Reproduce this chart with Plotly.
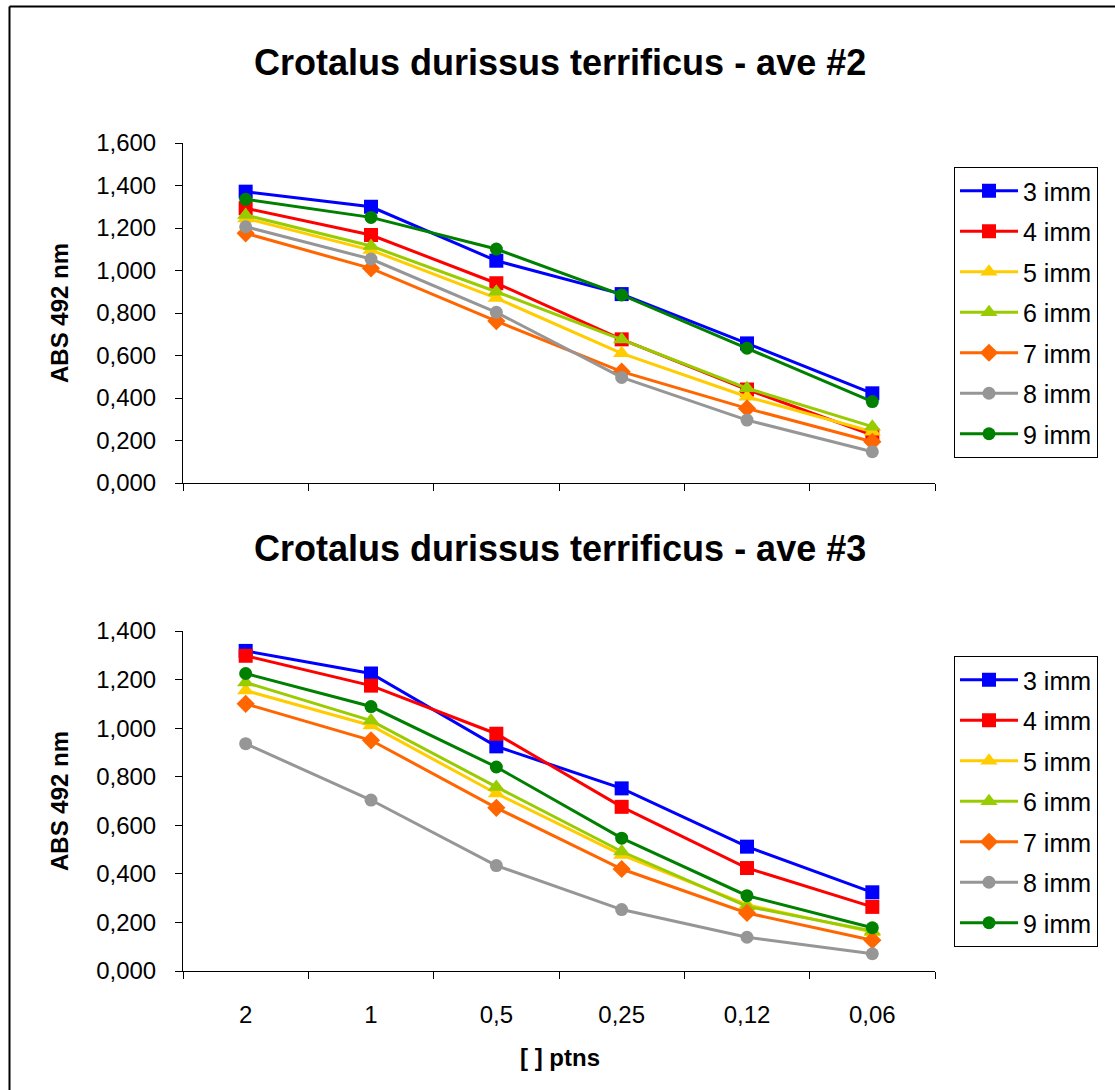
import plotly.graph_objects as go

W, H = 1115, 1090

categories = ["2", "1", "0,5", "0,25", "0,12", "0,06"]
series_names = ["3 imm", "4 imm", "5 imm", "6 imm", "7 imm", "8 imm", "9 imm"]

# Crotalus durissus terrificus - ave #2
ave2_3imm = [1.371, 1.300, 1.046, 0.889, 0.657, 0.422]
ave2_4imm = [1.293, 1.167, 0.940, 0.676, 0.440, 0.226]
ave2_5imm = [1.245, 1.096, 0.870, 0.610, 0.406, 0.241]
ave2_6imm = [1.261, 1.115, 0.900, 0.675, 0.446, 0.265]
ave2_7imm = [1.175, 1.010, 0.762, 0.524, 0.351, 0.194]
ave2_8imm = [1.206, 1.054, 0.803, 0.497, 0.296, 0.147]
ave2_9imm = [1.335, 1.250, 1.101, 0.885, 0.634, 0.383]

# Crotalus durissus terrificus - ave #3
ave3_3imm = [1.318, 1.225, 0.925, 0.752, 0.512, 0.324]
ave3_4imm = [1.298, 1.175, 0.977, 0.676, 0.424, 0.264]
ave3_5imm = [1.155, 1.011, 0.731, 0.478, 0.273, 0.160]
ave3_6imm = [1.188, 1.031, 0.758, 0.492, 0.266, 0.165]
ave3_7imm = [1.100, 0.950, 0.672, 0.420, 0.239, 0.127]
ave3_8imm = [0.936, 0.704, 0.434, 0.253, 0.139, 0.071]
ave3_9imm = [1.225, 1.089, 0.840, 0.547, 0.310, 0.178]

top_ticks = [0, 0.2, 0.4, 0.6, 0.8, 1.0, 1.2, 1.4, 1.6]
bottom_ticks = [0, 0.2, 0.4, 0.6, 0.8, 1.0, 1.2, 1.4]

colors = ["#0000FF", "#FF0000", "#FFCC00", "#99CC00", "#FF6600", "#969696", "#008000"]
symbols = ["square", "square", "triangle-up", "triangle-up", "diamond", "circle", "circle"]
sizes = [14, 14, 15, 15, 14, 13, 13]

ave2 = [ave2_3imm, ave2_4imm, ave2_5imm, ave2_6imm, ave2_7imm, ave2_8imm, ave2_9imm]
ave3 = [ave3_3imm, ave3_4imm, ave3_5imm, ave3_6imm, ave3_7imm, ave3_8imm, ave3_9imm]

FONT = "Liberation Sans, Arial, sans-serif"

fig = go.Figure()
for i, name in enumerate(series_names):
    fig.add_trace(go.Scatter(
        x=categories, y=ave2[i], name=name, mode="lines+markers",
        line=dict(color=colors[i], width=3),
        marker=dict(symbol=symbols[i], size=sizes[i], color=colors[i]),
        xaxis="x", yaxis="y", legend="legend", legendgroup="a" + str(i),
    ))
for i, name in enumerate(series_names):
    fig.add_trace(go.Scatter(
        x=categories, y=ave3[i], name=name, mode="lines+markers",
        line=dict(color=colors[i], width=3),
        marker=dict(symbol=symbols[i], size=sizes[i], color=colors[i]),
        xaxis="x2", yaxis="y2", legend="legend2", legendgroup="b" + str(i),
    ))

def px_x(p):
    return p / W

def px_y(p):
    return 1 - p / H

xdom = [px_x(183), px_x(935)]

common_x = dict(
    type="category", categoryorder="array", categoryarray=categories,
    range=[-0.5, 5.5], showline=True, linecolor="black", linewidth=1,
    ticks="outside", ticklen=7, tickcolor="black", tickson="boundaries",
    showgrid=False, zeroline=False, domain=xdom,
    tickfont=dict(family=FONT, size=24, color="black"),
)
common_y = dict(
    showline=True, linecolor="black", linewidth=1, ticks="outside", ticklen=7,
    tickcolor="black", showgrid=False, zeroline=False, tickformat=".3f",
    tickfont=dict(family=FONT, size=24, color="black"), ticklabelstandoff=14,
)

legend_common = dict(
    x=px_x(954), xanchor="left", yanchor="top",
    bordercolor="black", borderwidth=1, bgcolor="white",
    font=dict(family=FONT, size=25, color="black"),
    tracegroupgap=5, itemwidth=58,
)

fig.update_layout(
    width=W, height=H, separators=",.",
    margin=dict(l=0, r=0, t=0, b=0, autoexpand=False),
    paper_bgcolor="white", plot_bgcolor="white",
    font=dict(family=FONT, color="black"),
    xaxis=dict(common_x, anchor="y", showticklabels=False),
    yaxis=dict(common_y, anchor="x", domain=[px_y(483), px_y(143)],
               range=[0, 1.6], tickvals=top_ticks),
    xaxis2=dict(common_x, anchor="y2", ticklabelstandoff=22),
    yaxis2=dict(common_y, anchor="x2", domain=[px_y(971), px_y(631)],
                range=[0, 1.4], tickvals=bottom_ticks),
    legend=dict(legend_common, y=px_y(167)),
    legend2=dict(legend_common, y=px_y(656)),
    showlegend=True,
)

ann_font_title = dict(family=FONT, size=36, color="black")
ann_font_axis = dict(family=FONT, size=24, color="black")
fig.add_annotation(text="<b>Crotalus durissus terrificus - ave #2</b>", xref="paper", yref="paper",
                   x=px_x(560), y=px_y(62), showarrow=False, font=ann_font_title,
                   xanchor="center", yanchor="middle")
fig.add_annotation(text="<b>Crotalus durissus terrificus - ave #3</b>", xref="paper", yref="paper",
                   x=px_x(560), y=px_y(548), showarrow=False, font=ann_font_title,
                   xanchor="center", yanchor="middle")
fig.add_annotation(text="<b>ABS 492 nm</b>", xref="paper", yref="paper",
                   x=px_x(59), y=px_y(313), showarrow=False, font=ann_font_axis,
                   textangle=-90, xanchor="center", yanchor="middle")
fig.add_annotation(text="<b>ABS 492 nm</b>", xref="paper", yref="paper",
                   x=px_x(59), y=px_y(801), showarrow=False, font=ann_font_axis,
                   textangle=-90, xanchor="center", yanchor="middle")
fig.add_annotation(text="<b>[ ] ptns</b>", xref="paper", yref="paper",
                   x=px_x(560), y=px_y(1057), showarrow=False, font=ann_font_axis,
                   xanchor="center", yanchor="middle")

# outer chart border (top and left edges visible)
fig.add_shape(type="line", xref="paper", yref="paper", x0=px_x(9.5), y0=px_y(6.5),
              x1=1.01, y1=px_y(6.5), line=dict(color="black", width=2))
fig.add_shape(type="line", xref="paper", yref="paper", x0=px_x(9.5), y0=px_y(6.5),
              x1=px_x(9.5), y1=-0.01, line=dict(color="black", width=2))

fig.write_html("out.html")
